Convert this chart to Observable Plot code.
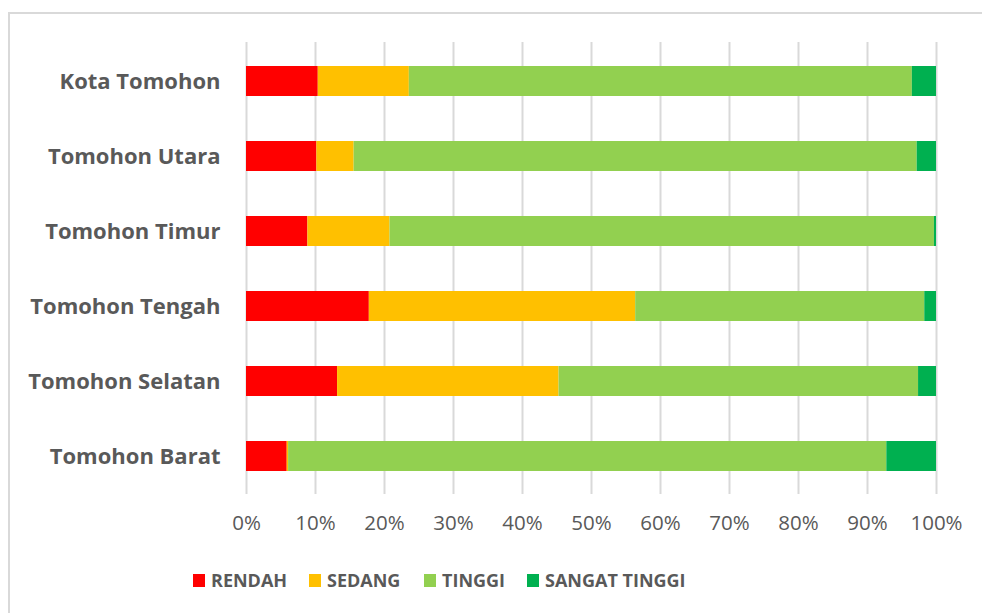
<!DOCTYPE html>
<html>
<head>
<meta charset="utf-8">
<script src="https://cdn.jsdelivr.net/npm/d3@7"></script>
<script src="https://cdn.jsdelivr.net/npm/@observablehq/plot@0.6"></script>
<style>
  html, body { margin: 0; padding: 0; background: #fff; }
  #wrap { position: relative; width: 982px; height: 613px; overflow: hidden; font-family: "Open Sans", sans-serif; }
  #frame { position: absolute; left: 8px; top: 12px; width: 990px; height: 620px; border-left: 2px solid #d9d9d9; border-top: 2px solid #d9d9d9; box-sizing: border-box; }
  #chart { position: absolute; left: 0; top: 0; }
  #legend { position: absolute; top: 565px; left: 0; width: 982px; height: 30px; }
  .item { position: absolute; top: 0; display: flex; align-items: center; height: 30px; font-weight: bold; font-size: 18px; color: #595959; white-space: nowrap; }
  .sw { width: 12px; height: 13px; margin-right: 6px; }
</style>
</head>
<body>
<div id="wrap">
  <div id="frame"></div>
  <div id="chart"></div>
  <div id="legend"></div>
</div>
<script>
const districts = ["Kota Tomohon", "Tomohon Utara", "Tomohon Timur", "Tomohon Tengah", "Tomohon Selatan", "Tomohon Barat"];
const levels = ["RENDAH", "SEDANG", "TINGGI", "SANGAT TINGGI"];
const rendah = [10.4, 10.2, 8.9, 17.8, 13.2, 5.9];
const sedang = [13.2, 5.4, 11.9, 38.6, 32.1, 0.2];
const tinggi = [72.9, 81.6, 78.9, 41.9, 52.1, 86.7];
const sangatTinggi = [3.5, 2.8, 0.3, 1.7, 2.6, 7.2];
const levelColors = ["#FF0000", "#FFC000", "#92D050", "#00B050"];
const xTicks = [0, 0.1, 0.2, 0.3, 0.4, 0.5, 0.6, 0.7, 0.8, 0.9, 1];

const series = [rendah, sedang, tinggi, sangatTinggi];
const rows = [];
districts.forEach((d, i) => {
  levels.forEach((lv, j) => rows.push({district: d, level: lv, value: series[j][i]}));
});

const chart = Plot.plot({
  width: 982,
  height: 545,
  marginLeft: 246,
  marginRight: 46,
  marginTop: 42,
  marginBottom: 51,
  style: {fontFamily: "'Open Sans', sans-serif", color: "#595959", background: "transparent"},
  x: {domain: [0, 1], label: null},
  y: {domain: districts, paddingInner: 0.6, paddingOuter: 0.3, label: null},
  color: {domain: levels, range: levelColors},
  marks: [
    Plot.ruleX(xTicks, {stroke: "#d9d9d9", strokeWidth: 2}),
    Plot.barX(rows, Plot.stackX({
      x: "value", y: "district", fill: "level",
      offset: "normalize", order: levels
    })),
    Plot.axisX(xTicks, {
      tickSize: 0, tickPadding: 21, tickFormat: d3.format(".0%"),
      fontSize: 20.5, fill: "#595959", label: null
    }),
    Plot.axisY({
      tickSize: 0, tickPadding: 26, fontSize: 22, fontWeight: "bold", fill: "#595959", label: null
    })
  ]
});
document.getElementById("chart").appendChild(chart);

const legendPos = [193, 309, 424, 527];
const legend = document.getElementById("legend");
levels.forEach((lv, i) => {
  const it = document.createElement("div");
  it.className = "item";
  it.style.left = legendPos[i] + "px";
  const sw = document.createElement("span");
  sw.className = "sw";
  sw.style.background = levelColors[i];
  it.appendChild(sw);
  it.appendChild(document.createTextNode(lv));
  legend.appendChild(it);
});
</script>
</body>
</html>
